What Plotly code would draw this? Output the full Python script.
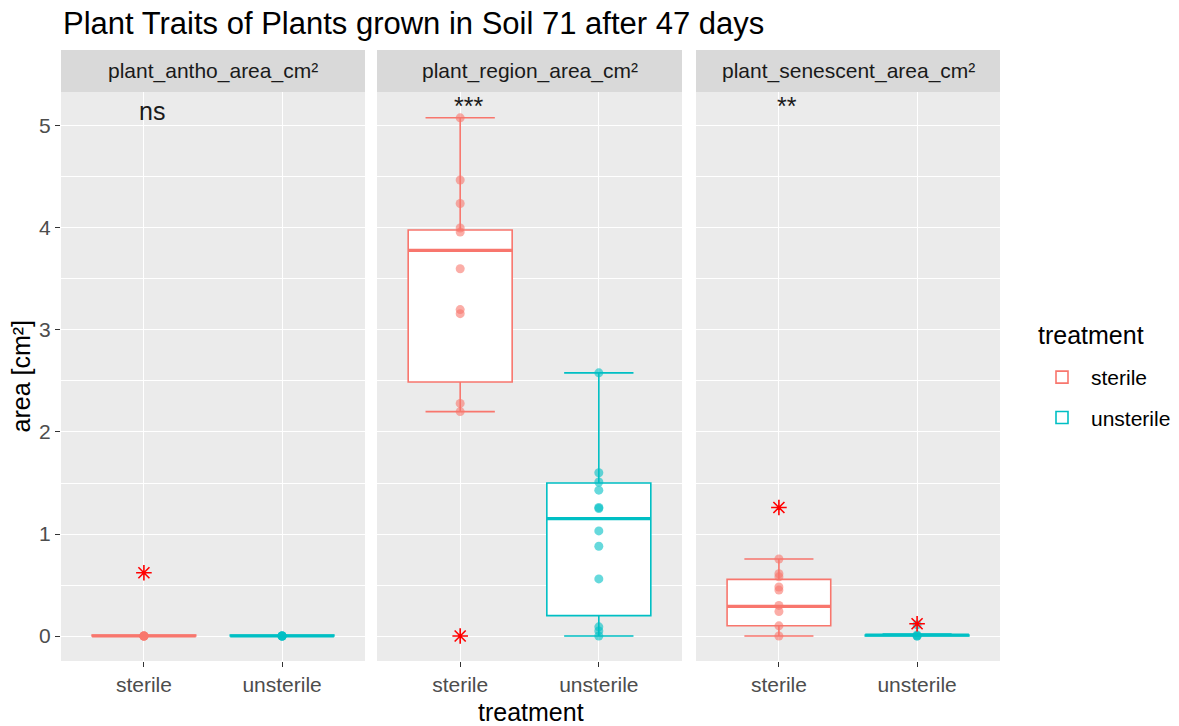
import plotly.graph_objects as go

# ---------------- data ----------------
treatments = ["sterile", "unsterile"]
panels = ["plant_antho_area_cm²", "plant_region_area_cm²", "plant_senescent_area_cm²"]
colors = {"sterile": "#F8766D", "unsterile": "#00BFC4"}

# box statistics per panel, [sterile, unsterile]
q1 = {
    "plant_antho_area_cm²": [0.0, 0.0],
    "plant_region_area_cm²": [2.49, 0.20],
    "plant_senescent_area_cm²": [0.10, 0.0],
}
median = {
    "plant_antho_area_cm²": [0.0, 0.0],
    "plant_region_area_cm²": [3.78, 1.15],
    "plant_senescent_area_cm²": [0.29, 0.01],
}
q3 = {
    "plant_antho_area_cm²": [0.01, 0.01],
    "plant_region_area_cm²": [3.98, 1.50],
    "plant_senescent_area_cm²": [0.555, 0.01],
}
lower_whisker = {
    "plant_antho_area_cm²": [0.0, 0.0],
    "plant_region_area_cm²": [2.20, 0.0],
    "plant_senescent_area_cm²": [0.0, 0.0],
}
upper_whisker = {
    "plant_antho_area_cm²": [0.01, 0.01],
    "plant_region_area_cm²": [5.08, 2.58],
    "plant_senescent_area_cm²": [0.755, 0.02],
}

# individual observations
points_sterile = {
    "plant_antho_area_cm²": [0.0, 0.0, 0.0, 0.0, 0.0],
    "plant_region_area_cm²": [5.08, 4.47, 4.24, 4.0, 3.96, 3.6, 3.2, 3.16, 2.28, 2.2],
    "plant_senescent_area_cm²": [0.755, 0.61, 0.58, 0.48, 0.45, 0.30, 0.24, 0.10, 0.0],
}
points_unsterile = {
    "plant_antho_area_cm²": [0.0, 0.0, 0.0, 0.0, 0.0],
    "plant_region_area_cm²": [2.58, 1.60, 1.51, 1.43, 1.26, 1.25, 1.03, 0.88, 0.56, 0.09, 0.05, 0.0],
    "plant_senescent_area_cm²": [0.11, 0.0, 0.0, 0.01],
}

# outliers (red asterisks)
outliers_sterile = {
    "plant_antho_area_cm²": [0.62],
    "plant_region_area_cm²": [0.0],
    "plant_senescent_area_cm²": [1.26],
}
outliers_unsterile = {
    "plant_antho_area_cm²": [],
    "plant_region_area_cm²": [],
    "plant_senescent_area_cm²": [0.12],
}

signif_labels = ["ns", "***", "**"]
signif_y = [5.15, 5.2, 5.2]

# ---------------- layout geometry ----------------
W, H = 1179, 726
panel_x = [(61, 365), (377, 682), (696, 1000)]
panel_top, panel_bottom = 92, 661
strip_top = 50
box_width = 0.75
font = "Liberation Sans, Arial, sans-serif"

fig = go.Figure()
points = {"sterile": points_sterile, "unsterile": points_unsterile}
outliers = {"sterile": outliers_sterile, "unsterile": outliers_unsterile}

for pi, panel in enumerate(panels):
    xa = "x" if pi == 0 else f"x{pi+1}"
    ya = "y" if pi == 0 else f"y{pi+1}"
    for ti, tr in enumerate(treatments):
        c = colors[tr]
        fig.add_trace(go.Box(
            x=[ti], q1=[q1[panel][ti]], median=[median[panel][ti]], q3=[q3[panel][ti]],
            lowerfence=[lower_whisker[panel][ti]], upperfence=[upper_whisker[panel][ti]],
            width=box_width, whiskerwidth=0.5 / box_width,
            fillcolor="white", line=dict(color=c, width=1.6),
            name=tr, legendgroup=tr, showlegend=(pi == 0),
            boxpoints=False, xaxis=xa, yaxis=ya, hoverinfo="skip",
        ))
        # thicker median line (as in ggplot)
        m = median[panel][ti]
        fig.add_trace(go.Scatter(
            x=[ti - box_width / 2, ti + box_width / 2], y=[m, m], mode="lines",
            line=dict(color=c, width=3.2), showlegend=False, xaxis=xa, yaxis=ya,
            hoverinfo="skip",
        ))
        pts = points[tr][panel]
        fig.add_trace(go.Scatter(
            x=[ti] * len(pts), y=pts, mode="markers",
            marker=dict(color=c, size=9, opacity=0.6, line=dict(width=0)),
            showlegend=False, xaxis=xa, yaxis=ya, hoverinfo="skip",
        ))
        outs = outliers[tr][panel]
        if outs:
            fig.add_trace(go.Scatter(
                x=[ti] * len(outs), y=outs, mode="markers",
                marker=dict(symbol="asterisk-open", size=13, color="#FF0000",
                            line=dict(color="#FF0000", width=1.6)),
                showlegend=False, xaxis=xa, yaxis=ya, hoverinfo="skip",
            ))
    # significance label
    fig.add_annotation(
        x=0, y=signif_y[pi], xref=xa, yref=ya, text=signif_labels[pi],
        showarrow=False, xshift=8, font=dict(family=font, size=25, color="#1A1A1A"),
    )
    # strip
    x0, x1 = panel_x[pi]
    fig.add_shape(type="rect", xref="paper", yref="paper",
                  x0=x0 / W, x1=x1 / W, y0=1 - panel_top / H, y1=1 - strip_top / H,
                  fillcolor="#D9D9D9", line=dict(width=0), layer="below")
    fig.add_annotation(
        x=(x0 + x1) / 2 / W, y=1 - (strip_top + panel_top) / 2 / H, xref="paper", yref="paper",
        text=panel, showarrow=False, xanchor="center", yanchor="middle",
        font=dict(family=font, size=21, color="#1A1A1A"),
    )

axis_common = dict(
    showgrid=True, gridcolor="white", gridwidth=1.4, zeroline=False,
    ticks="outside", ticklen=5, tickcolor="#333333", tickwidth=1.2,
    tickfont=dict(family=font, size=21, color="#4D4D4D"), automargin=False,
    showline=False,
)
yd = [1 - panel_bottom / H, 1 - panel_top / H]
layout = dict(
    width=W, height=H, margin=dict(l=0, r=0, t=0, b=0),
    paper_bgcolor="white", plot_bgcolor="#EBEBEB",
    font=dict(family=font),
    showlegend=True,
    legend=dict(
        x=1033 / W, y=1 - 357 / H, xanchor="left", yanchor="top",
        font=dict(family=font, size=21, color="black"), bgcolor="white",
        itemwidth=48, tracegroupgap=10,
    ),
)
for pi in range(3):
    xk = "xaxis" if pi == 0 else f"xaxis{pi+1}"
    yk = "yaxis" if pi == 0 else f"yaxis{pi+1}"
    x0, x1 = panel_x[pi]
    layout[xk] = dict(
        axis_common, domain=[x0 / W, x1 / W], range=[-0.6, 1.6],
        tickmode="array", tickvals=[0, 1], ticktext=treatments,
        anchor="y" if pi == 0 else f"y{pi+1}",
    )
    layout[yk] = dict(
        axis_common, domain=yd, range=[-0.245, 5.333],
        tickmode="array", tickvals=[0, 1, 2, 3, 4, 5],
        showticklabels=(pi == 0),
        ticks="outside" if pi == 0 else "",
        minor=dict(tickmode="array", tickvals=[0.5, 1.5, 2.5, 3.5, 4.5],
                   showgrid=True, gridcolor="white", gridwidth=0.7),
        anchor="x" if pi == 0 else f"x{pi+1}",
    )
fig.update_layout(**layout)

# titles
fig.add_annotation(x=61 / W, y=1 - 23 / H, xref="paper", yref="paper",
                   text="Plant Traits of Plants grown in Soil 71 after 47 days",
                   showarrow=False, xanchor="left", yanchor="middle",
                   font=dict(family=font, size=31, color="black"))
fig.add_annotation(x=20 / W, y=1 - (panel_top + panel_bottom) / 2 / H, xref="paper", yref="paper",
                   text="area [cm²]", textangle=-90, showarrow=False,
                   xanchor="center", yanchor="middle",
                   font=dict(family=font, size=25, color="black"))
fig.add_annotation(x=(61 + 1000) / 2 / W, y=1 - 712 / H, xref="paper", yref="paper",
                   text="treatment", showarrow=False, xanchor="center", yanchor="middle",
                   font=dict(family=font, size=25, color="black"))
# legend title
fig.add_annotation(x=1036 / W, y=1 - 335 / H, xref="paper", yref="paper",
                   text="treatment", showarrow=False, xanchor="left", yanchor="middle",
                   font=dict(family=font, size=25, color="black"))

fig.write_html("out.html", config={"displayModeBar": False},
               post_script="document.body.style.margin='0';document.body.style.overflow='hidden';")
